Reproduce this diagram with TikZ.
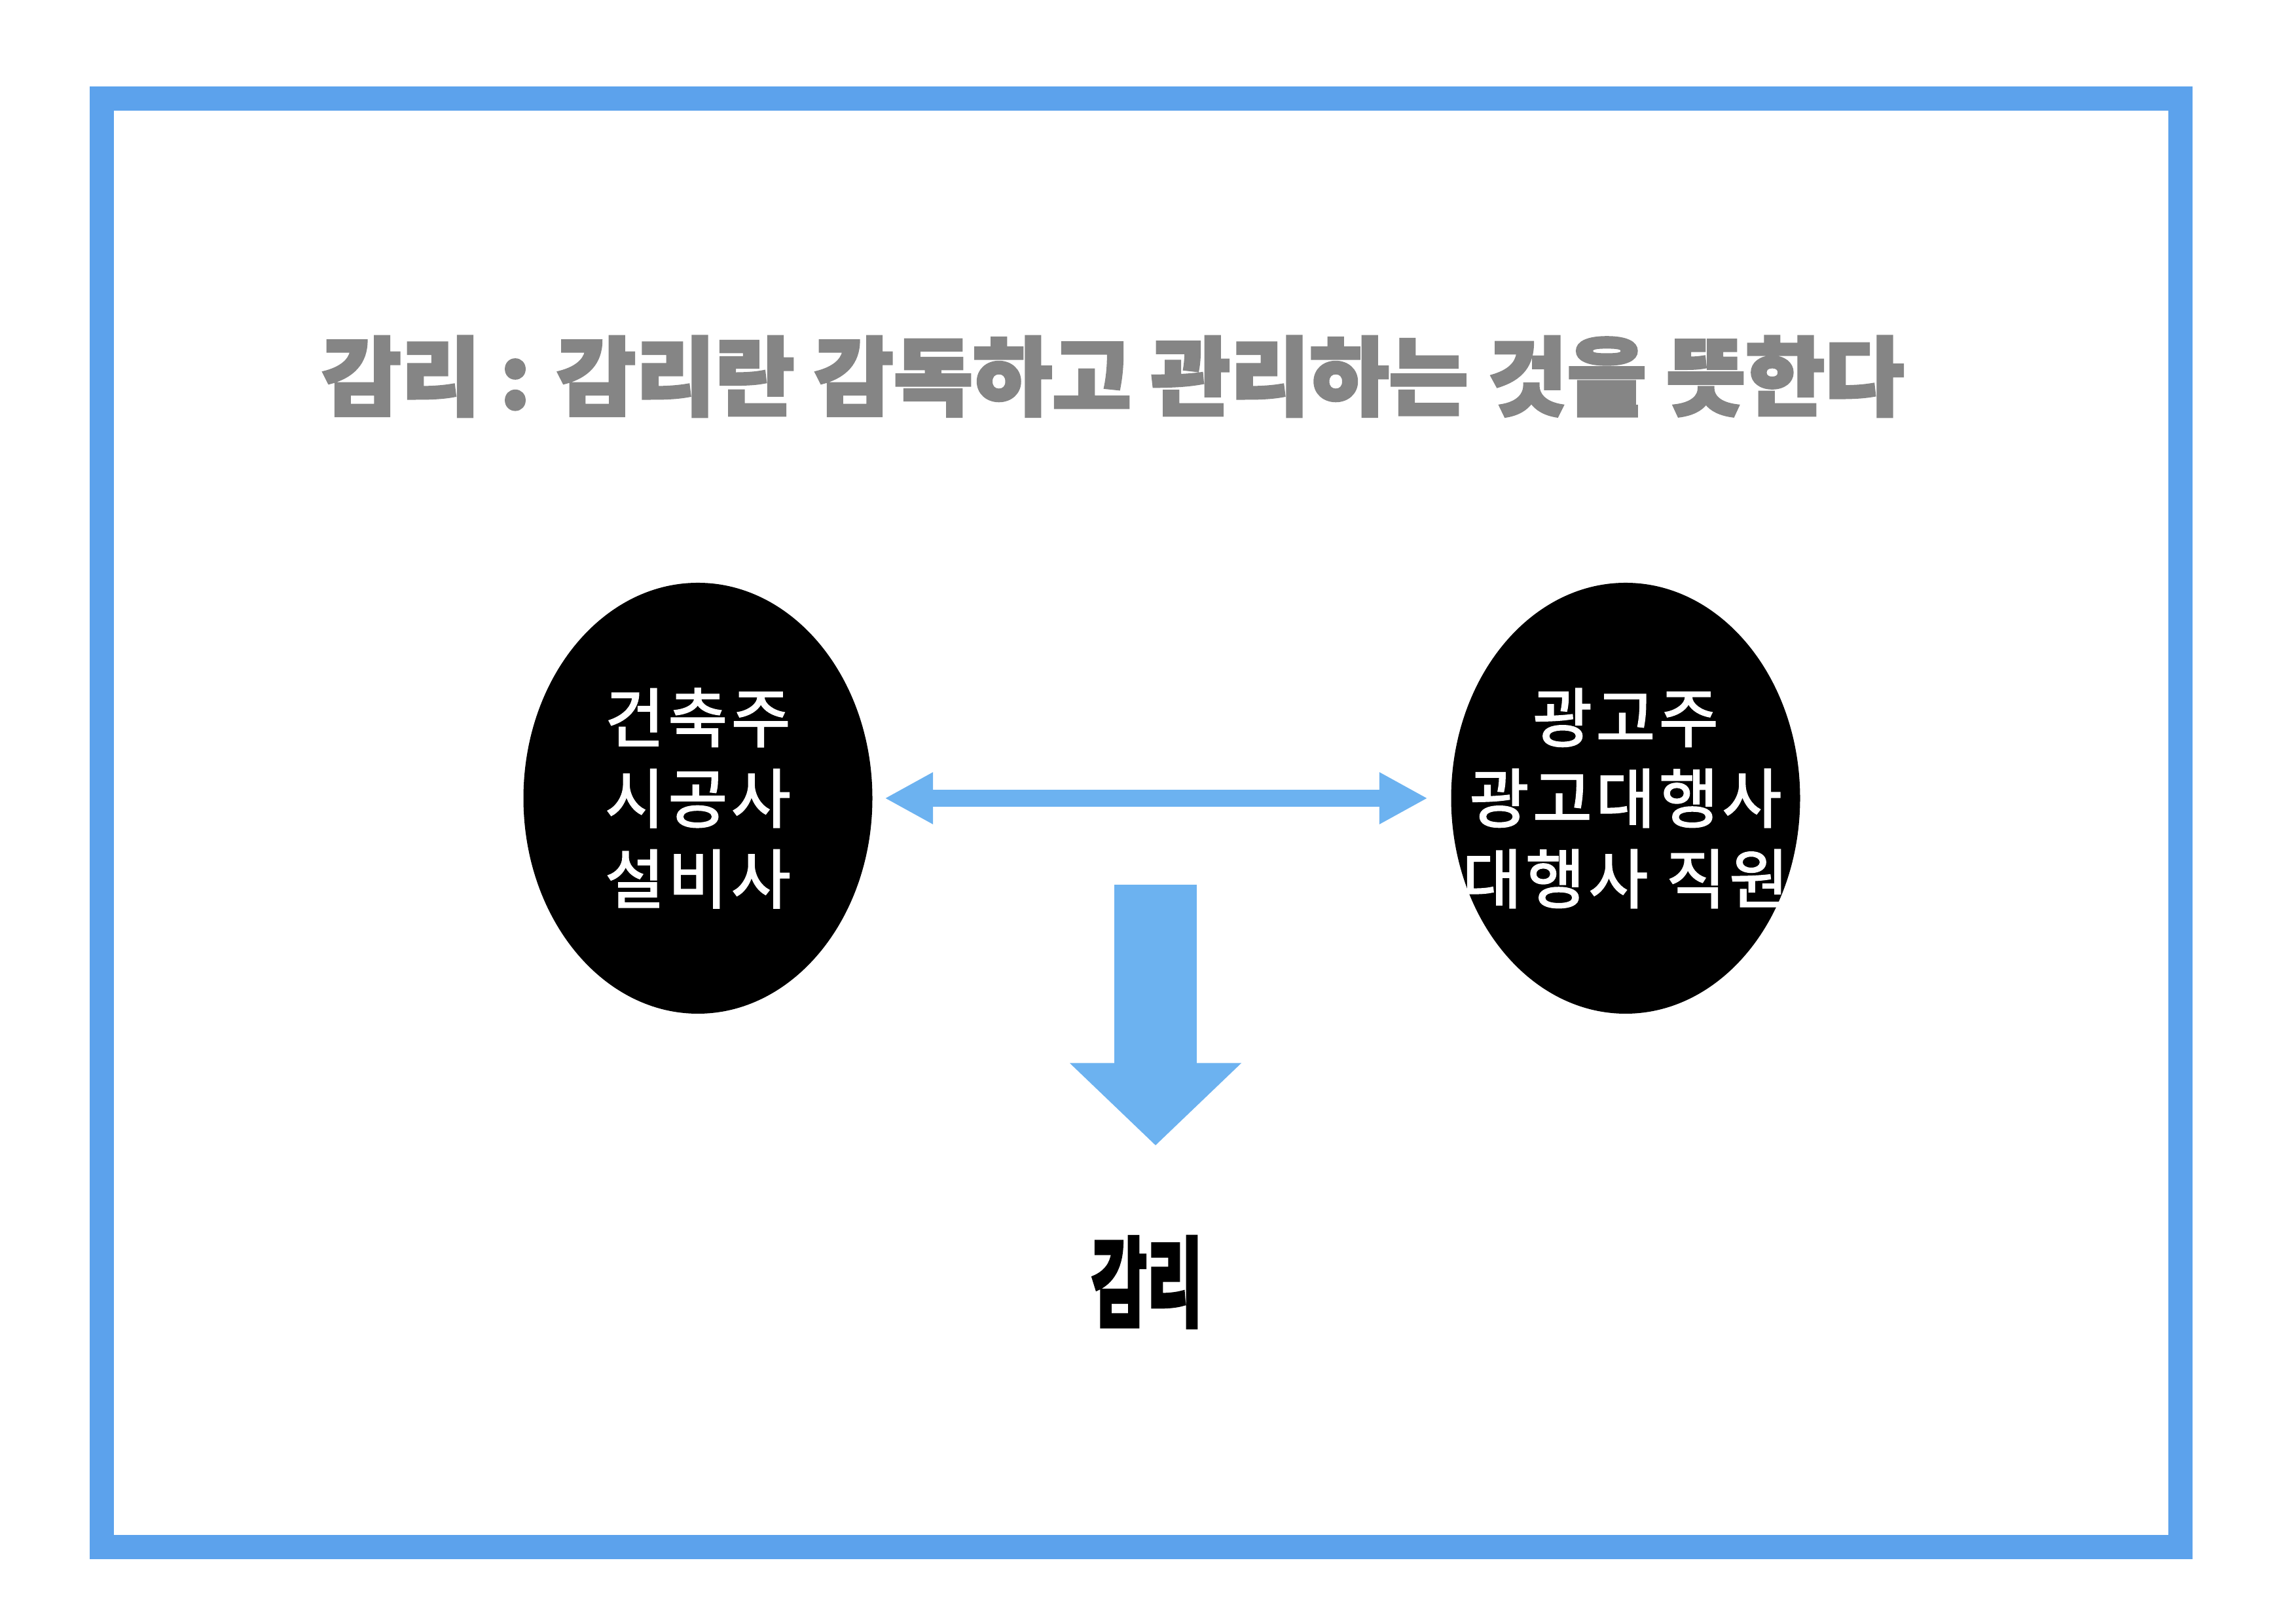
\documentclass[tikz,border=0pt]{standalone}
\usepackage{fontspec}
\setmainfont{Noto Sans CJK KR}
\newfontfamily\cjkmed[FakeBold=2.2, LetterSpace=6]{Noto Sans CJK KR}
\newfontfamily\cjkheavy[FakeBold=3]{Noto Sans CJK KR}
\usepackage{graphicx}
\usetikzlibrary{arrows.meta, positioning, shapes.geometric}
\definecolor{framebl}{RGB}{92,162,236}
\definecolor{arrowbl}{RGB}{108,178,240}
\newcommand{\partyline}[1]{\makebox[0pt]{#1}}
\tikzset{
  outerframe/.style={draw=framebl, line width=0.37cm},
  party/.style={
    ellipse, fill=black, text=white, inner sep=0pt,
    minimum width=5.33cm, minimum height=6.58cm,
    align=center, font=\cjkmed\fontsize{28}{35}\selectfont
  },
  headline/.style={text=black!48, inner sep=0pt, font=\cjkheavy\bfseries},
  result/.style={text=black, inner sep=0pt, font=\cjkheavy\bfseries},
  dblarrow/.style={
    arrowbl, line width=0.26cm,
    {Triangle[length=0.74cm,width=0.74cm]}-{Triangle[length=0.74cm,width=0.74cm]}
  },
  downarrow/.style={
    arrowbl, line width=1.26cm,
    -{Triangle[length=1.26cm,width=2.55cm]}
  }
}
\begin{document}
\begin{tikzpicture}
  \useasboundingbox (0,0) rectangle (35.07,24.80);
  \draw[outerframe] (1.55,1.17) rectangle (33.30,23.29);

  \node[headline] (title) at (17.00,19.05)
    {\resizebox*{24.16cm}{1.23cm}{감리 : 감리란 감독하고 관리하는 것을 뜻한다}};

  \node[party] (builder) at (10.66,12.61)
    {\partyline{건축주}\\\partyline{시공사}\\\partyline{설비사}};
  \node[party] (advert) at (24.83,12.61)
    {\partyline{광고주}\\\partyline{광고대행사}\\\partyline{대행사 직원}};

  \node[result] (gamri) at (17.52,5.22) {\resizebox*{1.70cm}{1.40cm}{감리}};
  \coordinate (dtop) at (17.65,11.29);

  \draw[dblarrow, shorten <=0.18cm, shorten >=0.35cm] (builder.east) -- (advert.west);
  \draw[downarrow, shorten >=1.38cm] (dtop) -- (dtop |- gamri.north);
\end{tikzpicture}
\end{document}
